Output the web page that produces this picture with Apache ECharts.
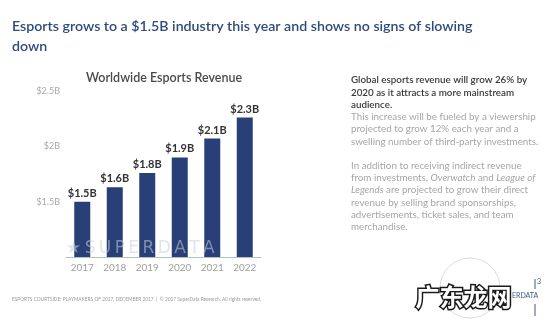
<!DOCTYPE html>
<html>
<head>
    <meta charset="utf-8">
    <title>Worldwide Esports Revenue</title>
    <script src="https://cdn.jsdelivr.net/npm/echarts@6/dist/echarts.min.js"></script>
    <style type="text/css">
        html, body {
            margin: 0;
            padding: 0;
            background: #ffffff;
        }
        #chart {
            width: 550px;
            height: 328px;
        }
    </style>
</head>
<body>
<div id="chart"></div>
<script>
    // 数据
    var years = ['2017', '2018', '2019', '2020', '2021', '2022'];
    var revenue = [1.5, 1.63, 1.76, 1.9, 2.07, 2.26];
    var yTicks = [1.0, 1.5, 2.0, 2.5];

    var font = 'Lato, "Open Sans", sans-serif';

    var chart = echarts.init(document.getElementById('chart'));

    // 右侧说明文字
    var boldLines = [
        'Global esports revenue will grow 26% by',
        '2020 as it attracts a more mainstream',
        'audience.'
    ];
    var bodyLines = [
        'This increase will be fueled by a viewership',
        'projected to grow 12% each year and a',
        'swelling number of third-party investments.',
        '',
        'In addition to receiving indirect revenue',
        'from investments, {i|Overwatch} and {i|League of}',
        '{i|Legends} are projected to grow their direct',
        'revenue by selling brand sponsorships,',
        'advertisements, ticket sales, and team',
        'merchandise.'
    ];

    var option = {
        animation: false,
        title: {
            text: 'Worldwide Esports Revenue',
            left: 81,
            top: 66,
            textStyle: {
                fontFamily: font,
                fontSize: 12.5,
                fontWeight: 600,
                color: '#4a4a4a'
            }
        },
        grid: {
            left: 66,
            right: 289,
            top: 91,
            bottom: 71
        },
        xAxis: {
            type: 'category',
            data: years,
            axisLine: {lineStyle: {color: '#b8bcc4', width: 1}},
            axisTick: {show: false},
            axisLabel: {
                interval: 0,
                color: '#a0a0a0',
                fontFamily: font,
                fontSize: 10,
                margin: 6
            }
        },
        yAxis: {
            type: 'value',
            min: yTicks[0],
            max: yTicks[yTicks.length - 1],
            interval: 0.5,
            splitLine: {show: false},
            axisLine: {show: false},
            axisTick: {show: false},
            axisLabel: {
                showMinLabel: false,
                color: '#a8a8a8',
                fontFamily: font,
                fontSize: 9,
                margin: 6,
                formatter: function (v) {
                    return '$' + v + 'B';
                }
            }
        },
        series: [
            {
                type: 'bar',
                data: revenue,
                barWidth: 16,
                itemStyle: {color: '#283f78'},
                label: {
                    show: true,
                    position: 'top',
                    distance: 3,
                    color: '#333333',
                    fontFamily: font,
                    fontSize: 11,
                    fontWeight: 'bold',
                    formatter: function (p) {
                        return '$' + p.value.toFixed(1) + 'B';
                    }
                }
            }
        ],
        graphic: [
            {
                type: 'text',
                left: 12,
                top: 16,
                style: {
                    text: 'Esports grows to a $1.5B industry this year and shows no signs of slowing\ndown',
                    font: '600 14.2px ' + font,
                    lineHeight: 20,
                    fill: '#2f4a7c'
                }
            },
            {
                type: 'text',
                left: 351,
                top: 74,
                style: {
                    text: boldLines.join('\n'),
                    font: '600 9.8px ' + font,
                    lineHeight: 12.3,
                    fill: '#3a3a3a'
                }
            },
            {
                type: 'text',
                left: 351,
                top: 111,
                style: {
                    text: bodyLines.join('\n'),
                    font: '9.8px ' + font,
                    lineHeight: 12.2,
                    fill: '#a6a6a6',
                    rich: {
                        i: {
                            fontStyle: 'italic',
                            fontFamily: font,
                            fontSize: 9.8,
                            fill: '#a6a6a6',
                            lineHeight: 12.2
                        }
                    }
                }
            },
            {
                type: 'text',
                left: 12,
                top: 297,
                style: {
                    text: 'ESPORTS COURTSIDE: PLAYMAKERS OF 2017, DECEMBER 2017  |  \u00a9 2017 SuperData Research. All rights reserved.',
                    font: '4.8px ' + font,
                    fill: '#9a9a9a'
                }
            },
            {
                type: 'text',
                left: 66,
                top: 240,
                z: 100,
                style: {
                    text: '\u2605\u2009S\u2009U\u2009P\u2009E\u2009R\u2009D\u2009A\u2009T\u2009A',
                    font: '17px "DejaVu Sans", sans-serif',
                    fill: 'rgba(200,205,215,0.55)'
                }
            },
            {
                type: 'circle',
                shape: {cx: 470, cy: 288, r: 30},
                style: {fill: 'none', stroke: '#dcdcdc', lineWidth: 1}
            },
            {
                type: 'text',
                left: 512,
                top: 292,
                style: {
                    text: 'ERDATA',
                    font: '7px ' + font,
                    fill: '#3d5a8a'
                }
            },
            {
                type: 'text',
                left: 537,
                top: 278,
                style: {
                    text: '3',
                    font: '7px ' + font,
                    fill: '#3d5a8a'
                }
            },
            {
                type: 'line',
                shape: {x1: 535, y1: 279, x2: 535, y2: 289},
                style: {stroke: '#3d5a8a', lineWidth: 1}
            },
            {
                type: 'line',
                shape: {x1: 535, y1: 304, x2: 535, y2: 316},
                style: {stroke: '#3d5a8a', lineWidth: 1}
            },
            {
                type: 'text',
                left: 414,
                top: 283,
                z: 200,
                style: {
                    text: '广东龙网',
                    font: 'bold 24px "Noto Sans CJK SC"',
                    fill: '#ffffff',
                    stroke: '#1a1a1a',
                    lineWidth: 3
                }
            }
        ]
    };
    chart.setOption(option);
</script>
</body>
</html>
